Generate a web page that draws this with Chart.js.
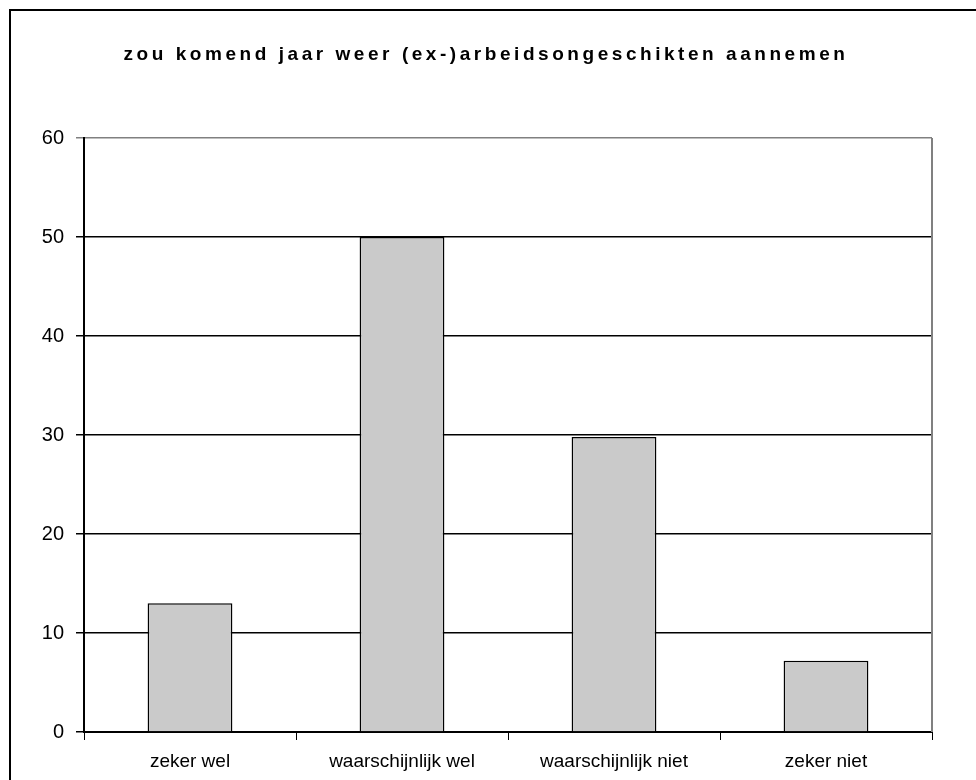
<!DOCTYPE html>
<html>
<head>
<meta charset="utf-8">
<script src="https://cdn.jsdelivr.net/npm/chart.js@4"></script>
<style>
  html, body { margin: 0; padding: 0; background: #fff; }
  #wrap { position: absolute; left: 0; top: 0; width: 976px; height: 780px; }
</style>
</head>
<body>
<div id="wrap"><canvas id="chart" width="976" height="780"></canvas></div>
<script>
// categories and values
const categories = ['zeker wel', 'waarschijnlijk wel', 'waarschijnlijk niet', 'zeker niet'];
const counts = [13, 50, 29.8, 7.2];
const yTicks = [0, 10, 20, 30, 40, 50, 60];
const chartTitle = 'zou komend jaar weer (ex-)arbeidsongeschikten aannemen';

// frame lines and spaced title
const framePlugin = {
  id: 'frame',
  beforeDraw(chart) {
    const ctx = chart.ctx;
    ctx.save();
    ctx.strokeStyle = '#000';
    ctx.lineWidth = 2;
    ctx.beginPath();
    ctx.moveTo(10, 780);
    ctx.lineTo(10, 10);
    ctx.lineTo(976, 10);
    ctx.stroke();
    ctx.restore();
  },
  afterDraw(chart) {
    const ctx = chart.ctx;
    const a = chart.chartArea;
    ctx.save();
    // gray right edge of the plot area
    ctx.strokeStyle = '#808080';
    ctx.lineWidth = 2;
    ctx.beginPath();
    ctx.moveTo(a.right, a.top);
    ctx.lineTo(a.right, a.bottom);
    ctx.stroke();
    // title
    ctx.fillStyle = '#000';
    ctx.font = 'bold 19px "Liberation Sans", Arial, sans-serif';
    ctx.letterSpacing = '3.55px';
    ctx.textAlign = 'center';
    ctx.textBaseline = 'middle';
    ctx.fillText(chartTitle, 486, 55);
    ctx.restore();
  }
};

const config = {
  type: 'bar',
  data: {
    labels: categories,
    datasets: [{
      data: counts,
      backgroundColor: '#cacaca',
      borderColor: '#000',
      borderWidth: 1.5,
      barPercentage: 0.4,
      categoryPercentage: 1
    }]
  },
  options: {
    responsive: false,
    animation: false,
    layout: { padding: { left: 0, right: 44, top: 138, bottom: 0 } },
    plugins: {
      legend: { display: false },
      tooltip: { enabled: false }
    },
    scales: {
      x: {
        offset: true,
        grid: {
          offset: true,
          drawOnChartArea: false,
          color: '#000',
          tickLength: 8,
          lineWidth: 1
        },
        border: { color: '#000', width: 2 },
        ticks: {
          color: '#000',
          padding: 10,
          font: { family: '"Liberation Sans", Arial, sans-serif', size: 19 }
        },
        afterFit(scale) { scale.height = 48; }
      },
      y: {
        min: 0,
        max: 60,
        afterBuildTicks(scale) { scale.ticks = yTicks.map(v => ({ value: v })); },
        grid: {
          color: ctx => (ctx.tick && ctx.tick.value === 60 ? '#808080' : '#000'),
          lineWidth: 1.5,
          tickLength: 8
        },
        border: { color: '#000', width: 2 },
        ticks: {
          color: '#000',
          padding: 12,
          font: { family: '"Liberation Sans", Arial, sans-serif', size: 20 }
        },
        afterFit(scale) { scale.width = 84; }
      }
    }
  },
  plugins: [framePlugin]
};

new Chart(document.getElementById('chart').getContext('2d'), config);
</script>
</body>
</html>
